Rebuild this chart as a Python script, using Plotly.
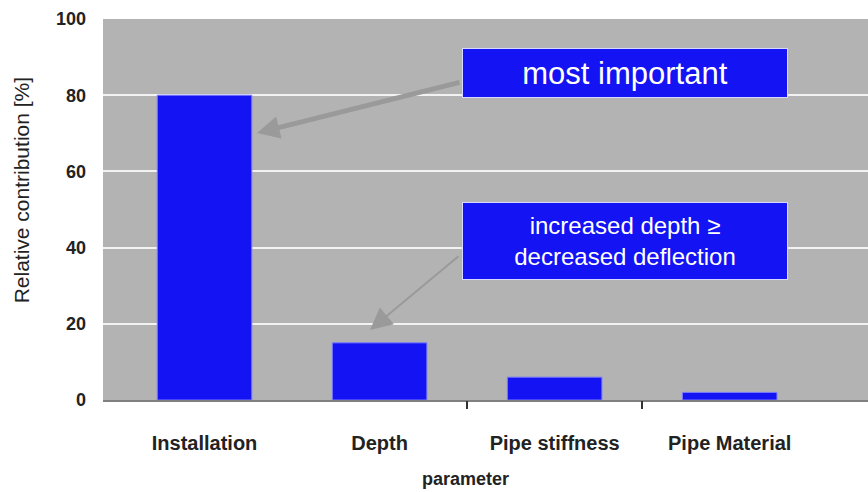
import plotly.graph_objects as go

categories = ["Installation", "Depth", "Pipe stiffness", "Pipe Material"]
values = [80, 15, 6, 2]
y_ticks = [0, 20, 40, 60, 80, 100]
boundary_ticks = [1.5, 2.5]

BLUE = "#1313f4"
GRAY_BG = "#b3b3b3"
TXT = "#222222"
FONT = "Liberation Sans, Arial, sans-serif"

fig = go.Figure()
fig.add_trace(go.Bar(
    x=categories, y=values, width=0.54,
    marker=dict(color=BLUE, line=dict(color="#7c7cff", width=1)),
    showlegend=False, hoverinfo="x+y",
))
# invisible trace to activate the boundary-tick axis
fig.add_trace(go.Scatter(x=boundary_ticks, y=[0, 0], xaxis="x2", mode="markers",
                         marker=dict(opacity=0), showlegend=False, hoverinfo="skip"))

xr = [-0.58, 3.79]
fig.update_layout(
    width=868, height=492,
    margin=dict(l=103, r=0, t=19, b=92),
    paper_bgcolor="white", plot_bgcolor=GRAY_BG,
    font=dict(family=FONT, color=TXT),
    xaxis=dict(
        type="category", range=xr, showgrid=False, zeroline=False,
        showline=True, linecolor="#808080", linewidth=1.5,
        ticks="", ticklabelstandoff=24,
        tickfont=dict(size=20, family=FONT, weight="bold", color=TXT),
    ),
    xaxis2=dict(
        overlaying="x", anchor="y", side="bottom", range=xr,
        tickvals=boundary_ticks, ticks="outside", ticklen=8, tickwidth=1.5,
        tickcolor="#333333", showticklabels=False, showgrid=False,
        zeroline=False, showline=False,
    ),
    yaxis=dict(
        range=[0, 100], tickvals=y_ticks, showgrid=True, gridcolor="#f2f2f2",
        gridwidth=2, zeroline=False, showline=False, ticks="",
        ticklabelstandoff=16,
        tickfont=dict(size=18, family=FONT, weight="bold", color=TXT),
    ),
    bargap=0.4,
)

annotations = [
    # axis titles
    dict(text="Relative contribution [%]", xref="paper", yref="paper",
         x=-0.106, y=0.55, textangle=-90, showarrow=False,
         xanchor="center", yanchor="middle",
         font=dict(size=21, family=FONT, color=TXT)),
    dict(text="<b>parameter</b>", xref="paper", yref="paper",
         x=0.4745, y=(400 - 491) / 381, showarrow=False, xanchor="center", yanchor="bottom",
         font=dict(size=18, family=FONT, color=TXT)),
    # arrows
    dict(text="", xref="paper", yref="paper", x=0.2013, y=0.7008,
         ax=204, ay=-51, showarrow=True, arrowhead=2, arrowsize=0.9,
         arrowwidth=5, arrowcolor="#9a9a9a"),
    dict(text="", xref="paper", yref="paper", x=0.349, y=0.1837,
         ax=90, ay=-75, showarrow=True, arrowhead=2, arrowsize=2.2,
         arrowwidth=2, arrowcolor="#9a9a9a"),
    # callout boxes
    dict(text="most important", xref="paper", yref="paper",
         x=0.682, y=(400 - 73) / 381, showarrow=False,
         xanchor="center", yanchor="middle", width=324, height=48,
         bgcolor=BLUE, bordercolor="#d8d8ff", borderwidth=1, borderpad=0,
         font=dict(size=31, family=FONT, color="white")),
    dict(text="increased depth ≥<br>decreased deflection", xref="paper", yref="paper",
         x=0.682, y=(400 - 241) / 381, showarrow=False,
         xanchor="center", yanchor="middle", width=324, height=76,
         bgcolor=BLUE, bordercolor="#d8d8ff", borderwidth=1, borderpad=0,
         font=dict(size=24, family=FONT, color="white")),
]
fig.update_layout(annotations=annotations)

fig.write_html("out.html")
